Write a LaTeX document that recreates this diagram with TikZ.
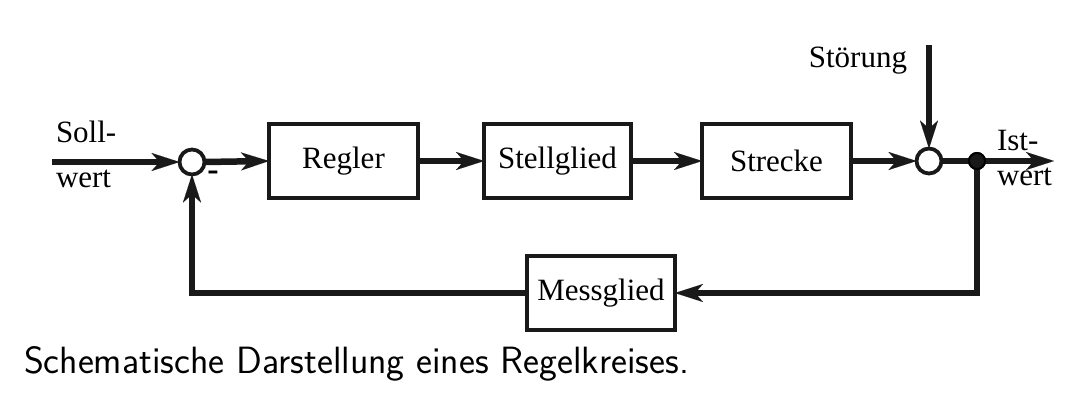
\documentclass[tikz,border=0pt]{standalone}
\usepackage{fontspec}
\setmainfont{Liberation Serif}
\usetikzlibrary{arrows.meta,positioning}
\begin{document}
\begin{tikzpicture}[x=1pt,y=-1pt,
  every node/.style={inner sep=0pt,outer sep=0pt},
  lbl/.style={font=\fontsize{31}{36}\selectfont},
  blockbox/.style={draw=black!90,line width=4.5pt,fill=white,minimum height=74pt,font=\fontsize{31}{36}\selectfont},
  sumnode/.style={circle,draw=black!90,line width=3.8pt,fill=white,minimum size=25pt},
  conn/.style={line width=6.5pt,draw=black!90},
  arr/.style={conn,-{Stealth[length=28pt,width=18pt,inset=8pt,line width=0.01pt]}}
]
\useasboundingbox (0,0) rectangle (1069,410);
% blocks
\node[blockbox,minimum width=149pt] (regler) at (343.5,161) {Regler};
\node[blockbox,minimum width=147pt] (stell) at (557.5,161) {Stellglied};
\node[blockbox,minimum width=149pt] (strecke) at (776.5,161) {Strecke};
\node[blockbox,minimum width=148pt] (mess) at (601,293) {Messglied};
% summing points
\node[sumnode] (sum1) at (192,162) {};
\node[sumnode] (sum2) at (929,161) {};
\node[circle,fill=black!90,draw=black,line width=2pt,minimum size=16pt] (dot) at (977,161) {};
% free ends
\coordinate (in) at (52,162);
\coordinate (dist) at (929,45);
\coordinate (out) at (1054,161);
% labels
\node[lbl,anchor=base west] (soll) at (56,142) {Soll-};
\node[lbl,anchor=base west] (sollw) at (56,187) {wert};
\node[lbl,anchor=base west] (ist) at (997,150) {Ist-};
\node[lbl,anchor=base west] (istw) at (997,185) {wert};
\node[lbl,anchor=base east] (stoer) at (907,67) {Störung};
\node[font=\bfseries\fontsize{34}{36}\selectfont] (minus) at (213,176) {-};
% connectors
\draw[arr] (in) -- (sum1.west);
\draw[arr] (sum1.east) -- (regler.west);
\draw[arr] (regler.east) -- (stell.west);
\draw[arr] (stell.east) -- (strecke.west);
\draw[arr] (strecke.east) -- (sum2.west);
\draw[arr] (dist) -- (sum2.north);
\draw[conn] (sum2.east) -- (dot.west);
\draw[arr] (dot.east) -- (out);
\draw[arr] (dot.south) |- (mess.east);
\draw[arr] (mess.west) -| (sum1.south);
% redraw dot on top
\node[circle,fill=black!90,draw=black,line width=2pt,minimum size=16pt] at (dot) {};
% caption
\node[font=\sffamily\fontsize{38}{44}\selectfont,anchor=base west] (cap) at (24,373) {Schematische Darstellung eines Regelkreises.};
\end{tikzpicture}
\end{document}
